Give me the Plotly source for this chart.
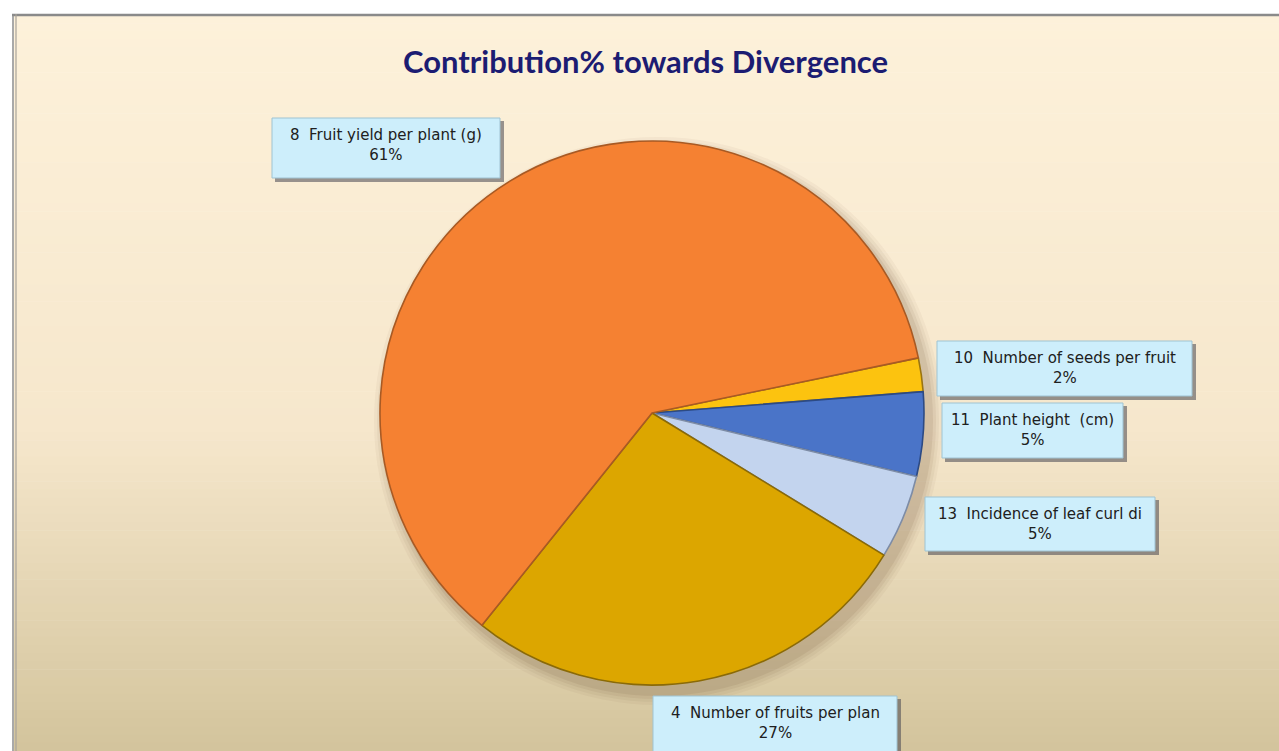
import plotly.graph_objects as go

W, H = 1279, 751

# Contribution of each character towards divergence (%)
labels = [
    "10  Number of seeds per fruit",
    "11  Plant height  (cm)",
    "13  Incidence of leaf curl di",
    "4  Number of fruits per plan",
    "8  Fruit yield per plant (g)",
]
values = [2, 5, 5, 27, 61]
slice_colors = ["#fcc30f", "#4a74c8", "#c3d4ee", "#dca600", "#f58132"]
edge_colors = ["#9a7410", "#2c4a84", "#7d8ca6", "#8a6a08", "#a85a24"]

title_text = "Contribution% towards Divergence"

# label box rectangles in pixels (x0, y0, x1, y1), same order as the data
label_boxes = [
    (937, 341, 1192, 396),
    (942, 403, 1123, 458),
    (925, 497, 1155, 551),
    (653, 696, 897, 760),
    (272, 118, 500, 178),
]

# pie centre / radius in pixels
CX, CY, R = 652, 413, 272


def px(x):
    return x / W


def py(y):
    return 1 - y / H


def mix(c1, c2, t):
    a = [int(c1[i:i + 2], 16) for i in (1, 3, 5)]
    b = [int(c2[i:i + 2], 16) for i in (1, 3, 5)]
    return "#%02x%02x%02x" % tuple(round(a[k] + (b[k] - a[k]) * t) for k in range(3))


shapes = []

# white page behind the chart frame
shapes.append(dict(type="rect", xref="paper", yref="paper", x0=0, x1=1, y0=0, y1=1,
                   fillcolor="white", line_width=0, layer="below"))

# vertical cream-to-tan gradient of the chart area
top, y_mid, bottom = 15, 430, H
stops = [(top, "#fdf1da"), (y_mid, "#f6e7cc"), (bottom, "#d3c49c")]
n_bands = 90
for i in range(n_bands):
    y0 = top + (bottom - top) * i / n_bands
    y1 = top + (bottom - top) * (i + 1) / n_bands + 0.6
    yc = (y0 + y1) / 2
    if yc <= y_mid:
        col = mix(stops[0][1], stops[1][1], (yc - top) / (y_mid - top))
    else:
        col = mix(stops[1][1], stops[2][1], (yc - y_mid) / (bottom - y_mid))
    shapes.append(dict(type="rect", xref="paper", yref="paper",
                       x0=px(14), x1=1, y0=py(min(y1, H)), y1=py(y0),
                       fillcolor=col, line_width=0, layer="below"))

# chart frame: top rule and double left rule
shapes.append(dict(type="line", xref="paper", yref="paper", x0=px(12), x1=1,
                   y0=py(15), y1=py(15), line=dict(color="#8a8a8a", width=2.5), layer="below"))
shapes.append(dict(type="line", xref="paper", yref="paper", x0=px(13), x1=px(13),
                   y0=0, y1=py(14), line=dict(color="#8c8c8c", width=1.5), layer="below"))
shapes.append(dict(type="line", xref="paper", yref="paper", x0=px(16), x1=px(16),
                   y0=0, y1=py(14), line=dict(color="#a8a39a", width=1.2), layer="below"))

# soft drop shadow under the pie
for k, a in enumerate([0.05, 0.06, 0.08, 0.10]):
    grow = 12 - 3 * k
    shapes.append(dict(type="circle", xref="paper", yref="paper",
                       x0=px(CX - R - grow + 6), x1=px(CX + R + grow + 6),
                       y0=py(CY + R + grow + 8), y1=py(CY - R - grow + 8),
                       fillcolor=f"rgba(110,80,50,{a})", line_width=0, layer="below"))

# label boxes with a dark shadow on the right/bottom
annotations = []
for (x0, y0, x1, y1), lab, val in zip(label_boxes, labels, values):
    shapes.append(dict(type="rect", xref="paper", yref="paper",
                       x0=px(x0 + 3), x1=px(x1 + 4), y0=py(y1 + 4), y1=py(y0 + 3),
                       fillcolor="rgba(70,70,80,0.55)", line_width=0, layer="above"))
    shapes.append(dict(type="rect", xref="paper", yref="paper",
                       x0=px(x0), x1=px(x1), y0=py(y1), y1=py(y0),
                       fillcolor="#cdeefb", line=dict(color="#9fc3d2", width=1), layer="above"))
    annotations.append(dict(
        xref="paper", yref="paper", x=px((x0 + x1) / 2), y=py(y0 + 27),
        xanchor="center", yanchor="middle", showarrow=False,
        text=f"{lab}<br>{val}%", align="center",
        font=dict(family="DejaVu Sans, sans-serif", size=15, color="#202020"),
    ))

annotations.append(dict(
    xref="paper", yref="paper", x=px(645), y=py(61), xanchor="center", yanchor="middle",
    showarrow=False, text=f"<b>{title_text}</b>",
    font=dict(family="Lato, Open Sans, sans-serif", size=31, color="#1c1c72"),
))

fig = go.Figure(go.Pie(
    labels=labels,
    values=values,
    sort=False,
    direction="clockwise",
    rotation=78.3,
    marker=dict(colors=slice_colors, line=dict(color=edge_colors, width=1.6)),
    textinfo="none",
    hoverinfo="label+percent",
    domain=dict(x=[px(CX - R), px(CX + R)], y=[py(CY + R), py(CY - R)]),
    showlegend=False,
))

fig.update_layout(
    width=W, height=H,
    margin=dict(l=0, r=0, t=0, b=0),
    paper_bgcolor="white",
    plot_bgcolor="rgba(0,0,0,0)",
    shapes=shapes,
    annotations=annotations,
    showlegend=False,
)

fig.write_html("out.html")
